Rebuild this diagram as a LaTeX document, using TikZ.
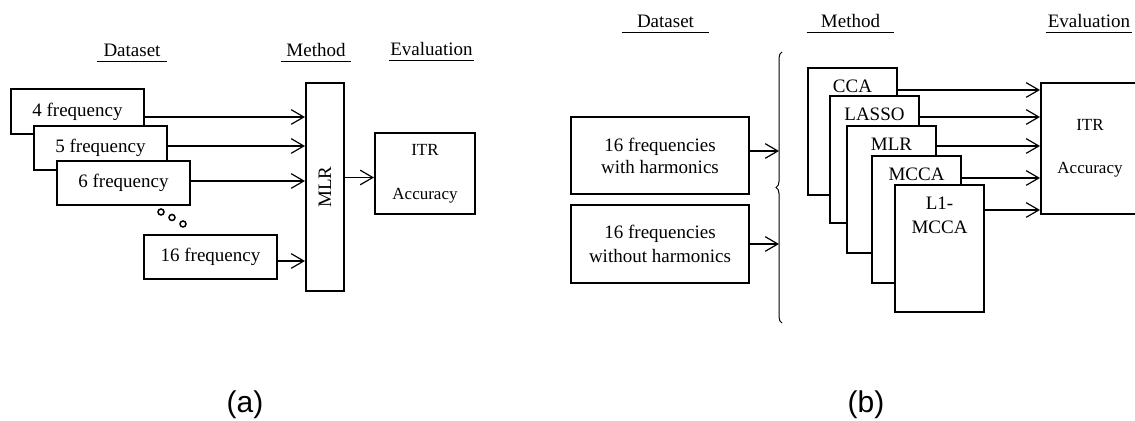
\documentclass[tikz,border=0pt]{standalone}
\usepackage{graphicx}
\usepackage{fontspec}
\setmainfont{Liberation Serif}
\newfontfamily\capfont{Liberation Sans}
\usetikzlibrary{arrows.meta, positioning, decorations.pathreplacing}

\begin{document}
\begin{tikzpicture}[x=0.5pt, y=-0.5pt,
    box/.style={draw, line width=1pt, fill=white, inner sep=0pt, font=\fontsize{9.5}{11}\selectfont},
    mbox/.style={box, anchor=north west, minimum width=44.5pt, text height=12.5pt, text depth=51pt},
    evalbox/.style={box, align=center, font=\fontsize{8.5}{10}\selectfont},
    head/.style={inner sep=0pt, text height=7pt, text depth=2pt, font=\fontsize{9.5}{11}\selectfont},
    arr/.style={-{Straight Barb[length=6.3pt, width=7.3pt]}, line width=0.6pt}]
      \clip (0,0) rectangle (1135,421);

      % (a) headers
      \node[head, minimum width=35pt] (hDataA) at (132,52) {Dataset};
      \node[head, minimum width=35pt] (hMethA) at (316,52) {Method};
      \node[head, minimum width=42.5pt] (hEvalA) at (431.5,51) {Evaluation};
      \foreach \h in {hDataA,hMethA,hEvalA}
        \draw[line width=0.5pt] (\h.south west) -- (\h.south east);

      % (a) datasets
      \node[box, minimum width=66.5pt, minimum height=22.5pt] (f4) at (77.5,111.5) {4 frequency};
      \node[box, minimum width=66.5pt, minimum height=22pt] (f5) at (100.5,148) {5 frequency};
      \node[box, minimum width=66.5pt, minimum height=22pt] (f6) at (123.5,183) {6 frequency};
      \node[box, minimum width=66.5pt, minimum height=22pt] (f16) at (210.5,257) {16 frequency};
      \foreach \px/\py in {161/212, 172/217.5, 183/224}
        \draw[line width=0.75pt] (\px,\py) circle (1.5pt);

      % (a) method and evaluation
      \node[box, minimum width=19pt, minimum height=104pt] (mlrA) at (325,187) {\rotatebox{90}{MLR}};
      \node[evalbox, minimum width=50pt, minimum height=40.5pt] (evalA) at (425,173.5) {ITR\\[12pt]Accuracy};
      \foreach \n/\s in {f4/-2.75, f5/1, f6/1, f16/-2}{
        \path ([yshift=\s pt]\n.east) coordinate (\n-o);
        \draw[arr] (\n-o) -- (\n-o -| mlrA.west);
      }
      \draw[arr] ([yshift=-2pt]evalA.west -| mlrA.east) -- ([yshift=-2pt]evalA.west);

      % (b) headers
      \node[head, minimum width=43.5pt] (hDataB) at (665.5,23) {Dataset};
      \node[head, minimum width=43.5pt] (hMethB) at (850.5,23) {Method};
      \node[head, minimum width=43pt] (hEvalB) at (1089,23) {Evaluation};
      \foreach \h in {hDataB,hMethB,hEvalB}
        \draw[line width=0.5pt] (\h.south west) -- (\h.south east);

      % (b) datasets
      \node[box, align=center, minimum width=89pt, minimum height=38.5pt] (dsWith) at (660,155.5) {16 frequencies\\with harmonics};
      \node[box, align=center, minimum width=89pt, minimum height=39pt] (dsWithout) at (660,244) {16 frequencies\\[1pt]without harmonics};
      \coordinate (brTop) at (782,52);
      \coordinate (brBot) at (782,323);
      \coordinate (brMid) at (779,187);
      \draw[decorate, decoration={brace, amplitude=3pt}, line width=0.5pt] (brBot) -- (brTop);
      \draw[arr] ([yshift=2.25pt]dsWith.east) -- ([yshift=2.25pt]dsWith.east -| brMid);
      \draw[arr] (dsWithout.east) -- (dsWithout.east -| brMid);

      % (b) methods
      \node[mbox] (mCCA) at (807,67) {CCA};
      \node[mbox] (mLasso) at (829,95) {LASSO};
      \node[mbox] (mMlr) at (846,125) {MLR};
      \node[mbox] (mMcca) at (871,155) {MCCA};
      \node[mbox, align=center, text height=24.5pt, text depth=39pt] (mL1) at (894,184) {L1-\\[1pt]MCCA};

      % (b) evaluation
      \node[evalbox, minimum width=49pt, minimum height=65.5pt] (evalB) at (1090,148.5) {ITR\\[11.5pt]Accuracy};
      \foreach \m/\d in {mCCA/11.5, mLasso/11, mMlr/10.5, mMcca/11.5, mL1/13}{
        \path ([yshift=-\d pt]\m.north east) coordinate (\m-o);
        \draw[arr] (\m-o) -- (\m-o -| evalB.west);
      }

      % captions
      \node[font=\capfont\fontsize{15}{17}\selectfont] (capA) at (245,405) {(a)};
      \node[font=\capfont\fontsize{15}{17}\selectfont] (capB) at (866,405) {(b)};
\end{tikzpicture}
\end{document}
